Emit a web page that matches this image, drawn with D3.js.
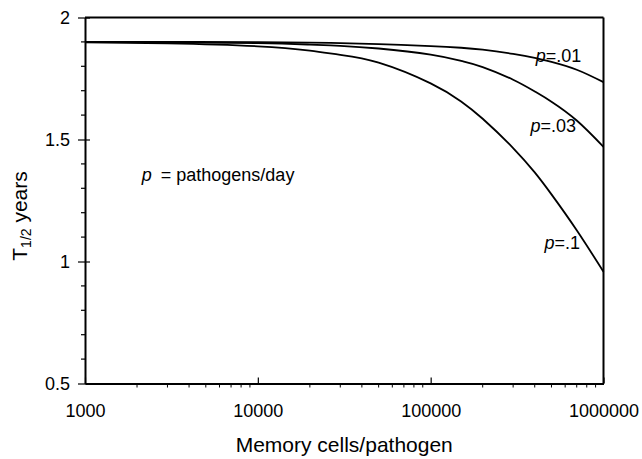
<!DOCTYPE html>
<html>
<head>
<meta charset="utf-8">
<script src="https://cdn.jsdelivr.net/npm/d3@7"></script>
<style>
body { margin:0; background:#fff; }
text { font-family:"Liberation Sans", Arial, Helvetica, sans-serif; fill:#000; }
</style>
</head>
<body>
<svg id="chart" width="642" height="459"></svg>
<script>
// memory cells per pathogen (x) and T1/2 in years for each pathogen rate
var cells = [1000, 3000, 10000, 20000, 30000, 50000, 100000, 150000, 200000, 300000, 400000, 500000, 700000, 1000000];
var p01 = [1.900, 1.900, 1.899, 1.897, 1.895, 1.891, 1.883, 1.876, 1.868, 1.851, 1.835, 1.818, 1.786, 1.735];
var p03 = [1.900, 1.898, 1.895, 1.889, 1.884, 1.873, 1.848, 1.822, 1.797, 1.745, 1.697, 1.655, 1.578, 1.470];
var p1  = [1.898, 1.894, 1.882, 1.864, 1.847, 1.815, 1.730, 1.656, 1.585, 1.465, 1.365, 1.275, 1.128, 0.958];

var xTicks = [1000, 10000, 100000, 1000000];
var yTicks = [0.5, 1, 1.5, 2];
var yMinor = [0.6, 0.7, 0.8, 0.9, 1.1, 1.2, 1.3, 1.4, 1.6, 1.7, 1.8, 1.9];

var curveLabels = ["=.01", "=.03", "=.1"];
var labelAt = [[405000, 1.819], [378000, 1.532], [455000, 1.050]];

var svg = d3.select("#chart");
var margin = {top:17.5, right:38.5, bottom:75.5, left:85};
var width = 642 - margin.left - margin.right,
    height = 459 - margin.top - margin.bottom;
var g = svg.append("g").attr("transform","translate("+margin.left+","+margin.top+")");

var x = d3.scaleLog().domain([1000, 1000000]).range([0, width]);
var y = d3.scaleLinear().domain([0.5, 2]).range([height, 0]);

// minor ticks (outward)
var xMinor = [];
[1000, 10000, 100000].forEach(function(d){
	for(var k=2;k<10;k++) xMinor.push(d*k);
});
g.selectAll(".xminor").data(xMinor).enter().append("line")
	.attr("x1",function(d){return x(d);}).attr("x2",function(d){return x(d);})
	.attr("y1",height).attr("y2",height+4)
	.attr("stroke","#000").attr("stroke-width",1);
g.selectAll(".yminor").data(yMinor).enter().append("line")
	.attr("x1",-4).attr("x2",0)
	.attr("y1",function(d){return y(d);}).attr("y2",function(d){return y(d);})
	.attr("stroke","#000").attr("stroke-width",1.2);

// axes
var xAxis = g.append("g").attr("transform","translate(0,"+height+")")
	.call(d3.axisBottom(x).tickValues(xTicks).tickFormat(d3.format("d")).tickSize(0).tickPadding(21));
xAxis.select(".domain").attr("stroke-width",2);
xAxis.selectAll(".tick line").attr("y1",0).attr("y2",-6).attr("stroke-width",1.2);
xAxis.selectAll(".tick text").style("font-size","18px");

var yAxis = g.append("g")
	.call(d3.axisLeft(y).tickValues(yTicks).tickFormat(d3.format("")).tickSize(0).tickPadding(15));
yAxis.select(".domain").attr("stroke-width",2);
yAxis.selectAll(".tick line").attr("x1",-7).attr("x2",5).attr("stroke-width",1.2);
yAxis.selectAll(".tick text").style("font-size","18px");

// frame top and right
g.append("line").attr("x1",0).attr("x2",width).attr("y1",0).attr("y2",0)
	.attr("stroke","#000").attr("stroke-width",2);
g.append("line").attr("x1",width).attr("x2",width).attr("y1",0).attr("y2",height)
	.attr("stroke","#000").attr("stroke-width",2);

// curves
var line = d3.line()
	.x(function(d){return x(d[0]);})
	.y(function(d){return y(d[1]);})
	.curve(d3.curveNatural);
[p01, p03, p1].forEach(function(s){
	g.append("path")
		.datum(cells.map(function(c,i){return [c, s[i]];}))
		.attr("d",line)
		.attr("fill","none").attr("stroke","#000").attr("stroke-width",1.8);
});

// curve labels
curveLabels.forEach(function(t,i){
	var tx = g.append("text")
		.attr("x",x(labelAt[i][0])).attr("y",y(labelAt[i][1]))
		.style("font-size","18px");
	tx.append("tspan").style("font-style","italic").text("p");
	tx.append("tspan").text(t);
});

// legend note
var note = g.append("text")
	.attr("x",x(2130)).attr("y",y(1.330))
	.style("font-size","18px");
note.append("tspan").style("font-style","italic").text("p");
note.append("tspan").attr("dx",9).text("= pathogens/day");

// axis titles
svg.append("text")
	.attr("x",margin.left+width/2).attr("y",452)
	.attr("text-anchor","middle").style("font-size","21px")
	.text("Memory cells/pathogen");

var yt = svg.append("text")
	.attr("transform","translate(27,216) rotate(-90)")
	.attr("text-anchor","middle").style("font-size","21px");
yt.append("tspan").text("T");
yt.append("tspan").attr("dy",4).style("font-size","14px").text("1/2");
yt.append("tspan").attr("dy",-4).text(" years");
</script>
</body>
</html>
